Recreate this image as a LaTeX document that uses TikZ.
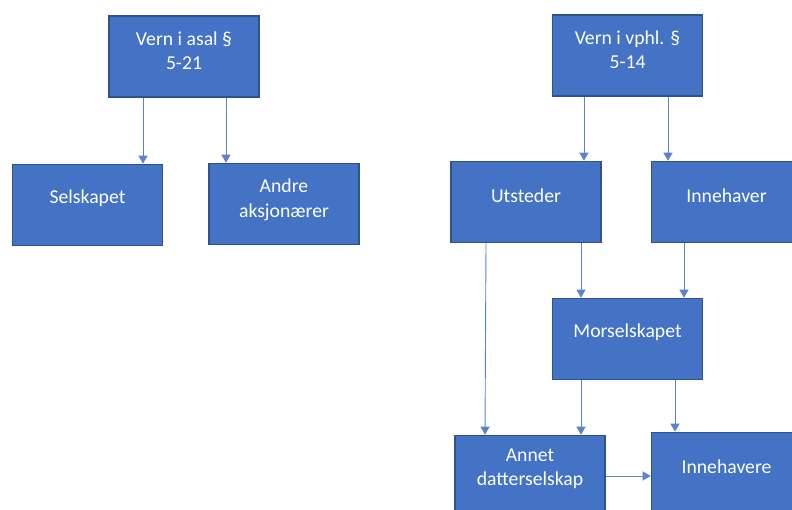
\documentclass[tikz,border=0pt]{standalone}
\usepackage{fontspec}
\setmainfont{Carlito}
\usetikzlibrary{arrows.meta}
\definecolor{boxfill}{HTML}{4472C4}
\definecolor{boxline}{HTML}{2F528F}
\definecolor{arrcol}{HTML}{5B82CB}
\tikzset{
  box/.style={draw=boxline, fill=boxfill, line width=1.6pt, minimum width=150pt, minimum height=81pt, inner sep=0pt},
  txt/.style={text=white, align=center, font=\fontsize{19.7}{24.5}\selectfont, inner sep=0pt},
  arr/.style={draw=arrcol, line width=0.9pt, -{Triangle[width=9pt,length=8pt]}},
  ln/.style={draw=arrcol, line width=0.9pt}
}
\begin{document}
\begin{tikzpicture}[x=1pt,y=-1pt]
\useasboundingbox (0,0) rectangle (792,510);
\clip (0,0) rectangle (792,510);
% boxes
\node[box] (va) at (184,56.5) {};
\node[box] (sel) at (87.5,205) {};
\node[box] (andre) at (284,204) {};
\node[box] (vv) at (627.5,55.5) {};
\node[box] (ut) at (526,202) {};
\node[box] (inn) at (726.5,202) {};
\node[box] (mor) at (627.5,339) {};
\node[box] (ann) at (530,476) {};
\node[box] (inns) at (726.5,473) {};
% texts
\node[txt] (va-t) at ([yshift=6pt]va.center) {Vern i asal §\\5-21};
\node[txt] (sel-t) at ([yshift=7pt]sel.center) {Selskapet};
\node[txt] (andre-t) at ([yshift=4pt]andre.center) {Andre\\aksjonærer};
\node[txt] (vv-t) at ([yshift=6pt]vv.center) {Vern i vphl. §\\5-14};
\node[txt] (ut-t) at ([yshift=6pt]ut.center) {Utsteder};
\node[txt] (inn-t) at ([yshift=6pt]inn.center) {Innehaver};
\node[txt] (mor-t) at ([yshift=7pt]mor.center) {Morselskapet};
\node[txt] (ann-t) at ([yshift=7pt]ann.center) {Annet\\datterselskap};
\node[txt] (inns-t) at ([yshift=6pt]inns.center) {Innehavere};
% connectors
\draw[arr] (143,0 |- va.south) -- (143,0 |- sel.north);
\draw[arr] (226,0 |- va.south) -- (226,0 |- andre.north);
\draw[arr] (584,0 |- vv.south) -- (584,0 |- ut.north);
\draw[arr] (668,0 |- vv.south) -- (668,0 |- inn.north);
\draw[arr] (581,0 |- ut.south) -- (581,0 |- mor.north);
\draw[arr] (684,0 |- inn.south) -- (684,0 |- mor.north);
\draw[arr] (486,0 |- ut.south) -- (485,0 |- ann.north);
\draw[arr] (581,0 |- mor.south) -- (581,0 |- ann.north);
\draw[arr] (675,0 |- mor.south) -- (675,0 |- inns.north);
\draw[arr] (ann.east |- 0,476) -- (inns.west |- 0,476);
\end{tikzpicture}
\end{document}
